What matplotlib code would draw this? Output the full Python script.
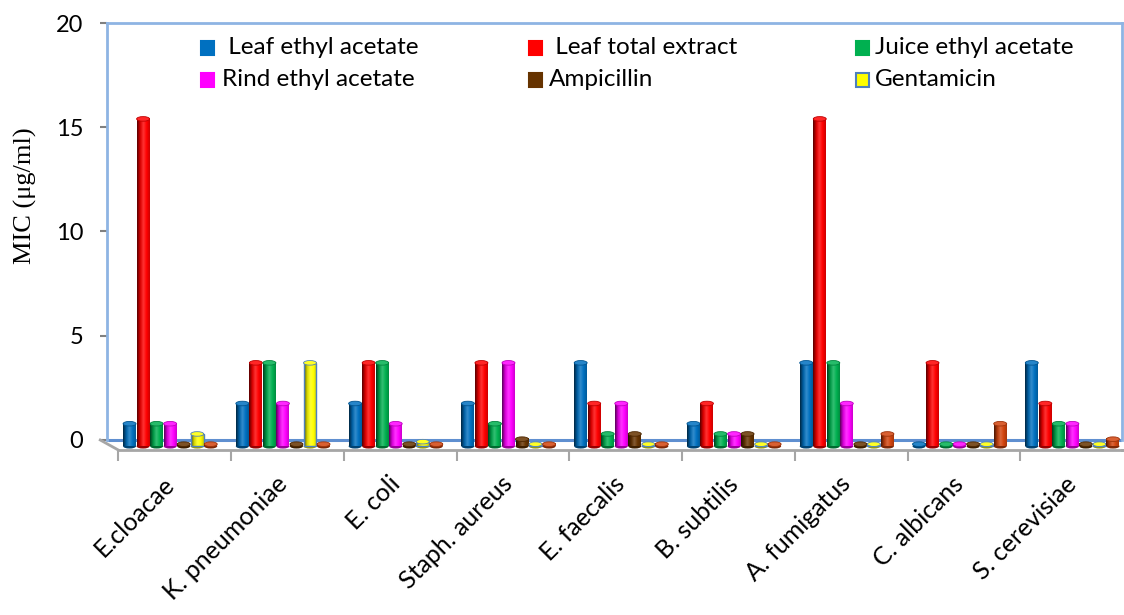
import numpy as np
import matplotlib
matplotlib.use('Agg')
import matplotlib.pyplot as plt
import matplotlib.patches as patches
from matplotlib.colors import to_rgb

# MIC values (ug/ml) per organism
categories = ['E.cloacae', 'K. pneumoniae', 'E. coli', 'Staph. aureus', 'E. faecalis',
              'B. subtilis', 'A. fumigatus', 'C. albicans', 'S. cerevisiae']
leaf_ethyl = [0.98, 1.95, 1.95, 1.95, 3.9, 0.98, 3.9, 0, 3.9]
leaf_total = [15.6, 3.9, 3.9, 3.9, 1.95, 1.95, 15.6, 3.9, 1.95]
juice_ethyl = [0.98, 3.9, 3.9, 0.98, 0.49, 0.49, 3.9, 0, 0.98]
rind_ethyl = [0.98, 1.95, 0.98, 3.9, 1.95, 0.49, 1.95, 0, 0.98]
ampicillin = [0, 0, 0, 0.24, 0.49, 0.49, 0, 0, 0]
gentamicin = [0.49, 3.9, 0.12, 0, 0, 0, 0, 0, 0]
antifungal = [0, 0, 0, 0, 0, 0, 0.49, 0.98, 0.24]   # 7th series, not in legend

series = [leaf_ethyl, leaf_total, juice_ethyl, rind_ethyl, ampicillin, gentamicin, antifungal]
names = [' Leaf ethyl acetate', ' Leaf total extract', 'Juice ethyl acetate',
         'Rind ethyl acetate', 'Ampicillin', 'Gentamicin', None]
colors = ['#0070C0', '#FF0000', '#00B050', '#FF00FF', '#663300', '#FFFF00', '#D2440E']
edges = [None, None, None, None, None, '#4F81BD', None]

W, H = 1124, 615
fig = plt.figure(figsize=(W / 100, H / 100), dpi=100)
ybot = -0.48
ax = fig.add_axes([107 / W, 1 - 450 / H, 1015 / W, (450 - 23) / H])

# fake 3D cylinders
floor = -0.3      # front floor depth
lift = -0.2       # top cap shift from projection
step, bw = 0.12, 0.115
x = np.arange(len(categories))


def shade(c):
    c = np.array(to_rgb(c))
    white = np.ones(3)
    stops = [c * 0.35, c * 0.85, c * 0.8 + white * 0.2, c, c * 0.8]
    pos = np.linspace(0, 1, len(stops))
    t = np.linspace(0, 1, 40)
    return np.stack([np.interp(t, pos, [s[i] for s in stops]) for i in range(3)], axis=-1)[None, :, :]


for k, (vals, col, ec) in enumerate(zip(series, colors, edges)):
    img = shade(col)
    cap = np.array(to_rgb(col)) * 0.85 + 0.15
    for i, v in enumerate(vals):
        xc = x[i] + 0.06 + (k - 3) * step
        top = v + lift
        ax.add_patch(patches.Ellipse((xc, floor), bw, 0.22, facecolor=np.array(to_rgb(col)) * 0.6,
                                     edgecolor='none', zorder=3, clip_on=False))
        ax.imshow(img, extent=[xc - bw / 2, xc + bw / 2, floor, top], aspect='auto',
                  interpolation='bilinear', zorder=3, clip_on=False)
        if ec:
            ax.add_patch(patches.Rectangle((xc - bw / 2, floor), bw, top - floor, fill=False,
                                           edgecolor=ec, lw=1, zorder=3, clip_on=False))
        ax.add_patch(patches.Ellipse((xc, top), bw, 0.22, facecolor=cap,
                                     edgecolor=ec if ec else np.array(to_rgb(col)) * 0.75,
                                     lw=0.6, zorder=3, clip_on=False))

ax.set_xlim(-0.5, 8.5)
ax.set_ylim(ybot, 20)

# walls and floor
ax.axhline(0, color='#5F8FD0', lw=2.2, zorder=1)
for s in ['left', 'right', 'top']:
    ax.spines[s].set_color('#8EB4E3')
    ax.spines[s].set_linewidth(2)
ax.spines['left'].set_bounds(0, 20)
ax.spines['right'].set_bounds(0, 20)
ax.spines['bottom'].set_color('#A6A6A6')
ax.spines['bottom'].set_linewidth(2)
ax.spines['bottom'].set_bounds(-0.4, 8.5)
ax.plot([-0.56, -0.4], [0, ybot], color='#A6A6A6', lw=2, clip_on=False)
ax.plot([8.5, 8.52], [ybot, ybot], color='#A6A6A6', lw=2, clip_on=False)

ax.set_yticks([0, 5, 10, 15, 20])
ax.tick_params(axis='y', length=5, width=1.5, color='#808080', pad=12, labelsize=17)
ax.set_xticks(x - 0.01)
ax.set_xticklabels(categories)
ax.set_xticks(x - 0.4, minor=True)
ax.tick_params(axis='x', which='major', length=0, pad=16, labelsize=18)
ax.tick_params(axis='x', which='minor', length=8, width=1.5, color='#A6A6A6')
for lab in ax.get_xticklabels():
    lab.set_rotation(45)
    lab.set_ha('right')
    lab.set_rotation_mode('anchor')
for lab in ax.get_xticklabels() + ax.get_yticklabels():
    lab.set_fontfamily('Lato')

fig.text(25 / W, 1 - 196 / H, 'MIC (\u03bcg/ml)', rotation=90, ha='center', va='center',
         fontsize=19, family='Liberation Serif')

# legend, laid out like the original
mark_x = [201, 529, 856]
text_x = [[222, 222], [549, 549], [875, 875]]
rows = [48, 80]
for k, nm in enumerate(names[:6]):
    col_i, row_i = k % 3, k // 3
    y = rows[row_i]
    fig.patches.append(patches.Rectangle((mark_x[col_i] / W, 1 - (y + 7) / H), 13 / W, 14 / H,
                                         transform=fig.transFigure, facecolor=colors[k],
                                         edgecolor=edges[k] if edges[k] else colors[k], lw=1.5))
    fig.text(text_x[col_i][row_i] / W, 1 - y / H, nm, ha='left', va='center',
             fontsize=17.5, family='Lato')

fig.savefig('out.png', dpi=100)
